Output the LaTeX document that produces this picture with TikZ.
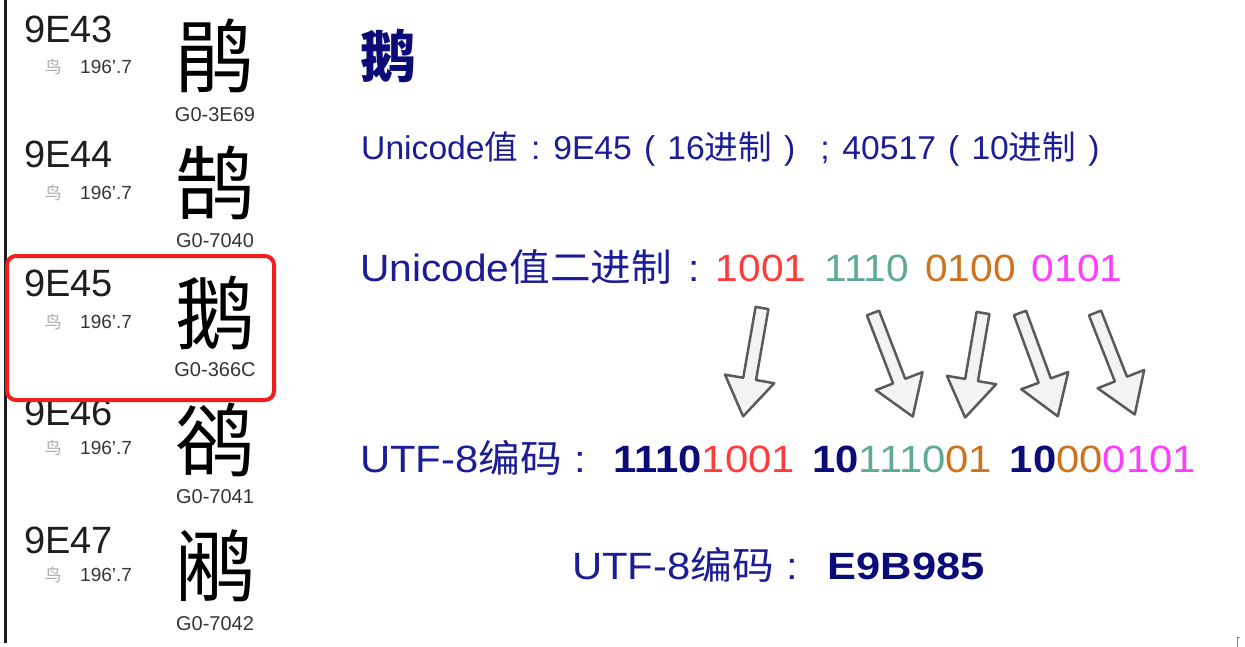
\documentclass[tikz,border=0pt]{standalone}
\usepackage{fontspec}
\setmainfont{Liberation Sans}
\newfontfamily\cjk{Noto Sans CJK SC}
\definecolor{navy}{RGB}{28,28,150}
\definecolor{dnavy}{RGB}{12,12,120}
\definecolor{cred}{RGB}{255,60,60}
\definecolor{cteal}{RGB}{95,170,150}
\definecolor{corange}{RGB}{205,115,30}
\definecolor{cmag}{RGB}{255,60,255}
\definecolor{ink}{RGB}{30,30,30}
\definecolor{arrline}{RGB}{90,90,90}
\definecolor{arrfill}{RGB}{243,243,243}
\definecolor{boxred}{RGB}{240,30,30}
\newcommand\blockarr[4]{%
  \draw[barrow, shift={(#1,#2)}, rotate=#3]
    (0,-6.5) -- ({#4-38},-6.5) -- ({#4-38},-25) -- (#4,0) -- ({#4-38},25) -- ({#4-38},6.5) -- (0,6.5) -- cycle;}
% centred full-width punctuation
\newcommand\fw[2][0.32em]{\hspace{#1}#2\hspace{#1}}
\tikzset{
  code/.style={anchor=west, inner sep=0pt, text=ink, font=\fontsize{38}{40}\selectfont},
  rad/.style={anchor=center, inner sep=0pt, text=gray!65, font=\cjk\fontsize{17}{18}\selectfont},
  stroke/.style={anchor=west, inner sep=0pt, text=ink!90, font=\fontsize{19}{20}\selectfont},
  big/.style={anchor=center, inner sep=0pt, text=black, font=\cjk\fontsize{80}{82}\selectfont},
  gcode/.style={anchor=center, inner sep=0pt, text=ink!90, font=\fontsize{20}{21}\selectfont},
  txt/.style={anchor=base west, inner sep=0pt, text=navy},
  barrow/.style={draw=arrline, fill=arrfill, line width=2.5pt, line join=round},
}
\begin{document}
\begin{tikzpicture}[x=1pt,y=-1pt]
\useasboundingbox[fill=white] (0,0) rectangle (1245,647);
% left vertical rule
\draw[line width=3pt, ink] (5,0) -- (5,643);
% rows
\node[code] (c43) at (24,29) {9E43};
\node[rad] (r43) at (53,67) {鸟};
\node[stroke] (s43) at (80,67) {196'.7};
\node[big] (b43) at (215,56) {鹃};
\node[gcode] (g43) at (215,115) {G0-3E69};

\node[code] (c44) at (24,154) {9E44};
\node[rad] (r44) at (53,193) {鸟};
\node[stroke] (s44) at (80,193) {196'.7};
\node[big] (b44) at (215,183) {鹄};
\node[gcode] (g44) at (215,241) {G0-7040};

\node[code] (c45) at (24,283) {9E45};
\node[rad] (r45) at (53,322) {鸟};
\node[stroke] (s45) at (80,322) {196'.7};
\node[big] (b45) at (215,313) {鹅};
\node[gcode] (g45) at (215,370) {G0-366C};

\node[code] (c46) at (24,412) {9E46};
\node[rad] (r46) at (53,448) {鸟};
\node[stroke] (s46) at (80,448) {196'.7};
\node[big] (b46) at (215,440) {鹆};
\node[gcode] (g46) at (215,497) {G0-7041};

\node[code] (c47) at (24,540) {9E47};
\node[rad] (r47) at (53,575) {鸟};
\node[stroke] (s47) at (80,575) {196'.7};
\node[big] (b47) at (215,566) {鹇};
\node[gcode] (g47) at (215,624) {G0-7042};

% red highlight box
\draw[boxred, line width=4pt, rounded corners=9pt] (7,256) rectangle (274,400);

% right side
\node[anchor=center, inner sep=0pt, text=dnavy, font=\cjk\bfseries\fontsize{56}{58}\selectfont] (title) at (388,56) {鹅};

\node[txt, font=\fontsize{33}{36}\selectfont] (uval) at (361,160)
  {\scalebox{1.02}[1]{Unicode{\cjk 值}\fw[0.38em]{:}9E45\fw[0.36em]{(}16{\cjk 进制}\fw[0.36em]{)}\fw[0.38em]{;}40517\fw[0.36em]{(}10{\cjk 进制}\fw[0.36em]{)}}};

\node[txt, font=\fontsize{38}{40}\selectfont] (ubin) at (360,281)
  {\scalebox{1.07}[1]{Unicode{\cjk 值二进制}\fw[0.4em]{:}\textcolor{cred}{1001}\hspace{0.45em}\textcolor{cteal}{1110}\hspace{0.4em}\textcolor{corange}{0100}\hspace{0.4em}\textcolor{cmag}{0101}}};

\blockarr{762}{308}{-99.9}{110}
\blockarr{873}{313}{-69}{111}
\blockarr{983}{313}{-99.7}{106}
\blockarr{1020}{313}{-69.9}{110}
\blockarr{1095}{313}{-68.6}{109}

\node[txt, font=\fontsize{38}{40}\selectfont] (utf) at (360,472)
  {\scalebox{1.1}[1]{UTF-8{\cjk 编码}\hspace{0.3em}:\hspace{0.65em}{\bfseries\color{dnavy}1110}\textcolor{cred}{1001}\hspace{0.42em}{\bfseries\color{dnavy}10}\textcolor{cteal}{1110}\textcolor{corange}{01}\hspace{0.42em}{\bfseries\color{dnavy}10}\textcolor{corange}{00}\textcolor{cmag}{0101}}};

\node[txt, font=\fontsize{38}{40}\selectfont] (utfhex) at (572,579)
  {\scalebox{1.1}[1]{UTF-8{\cjk 编码}\hspace{0.3em}:\hspace{0.7em}{\bfseries\color{dnavy}\scalebox{1.04}[1]{E9B985}}}};

% small corner mark
\draw[gray, line width=1pt] (1240,637) -- (1237,637) -- (1237,647);
\end{tikzpicture}
\end{document}
